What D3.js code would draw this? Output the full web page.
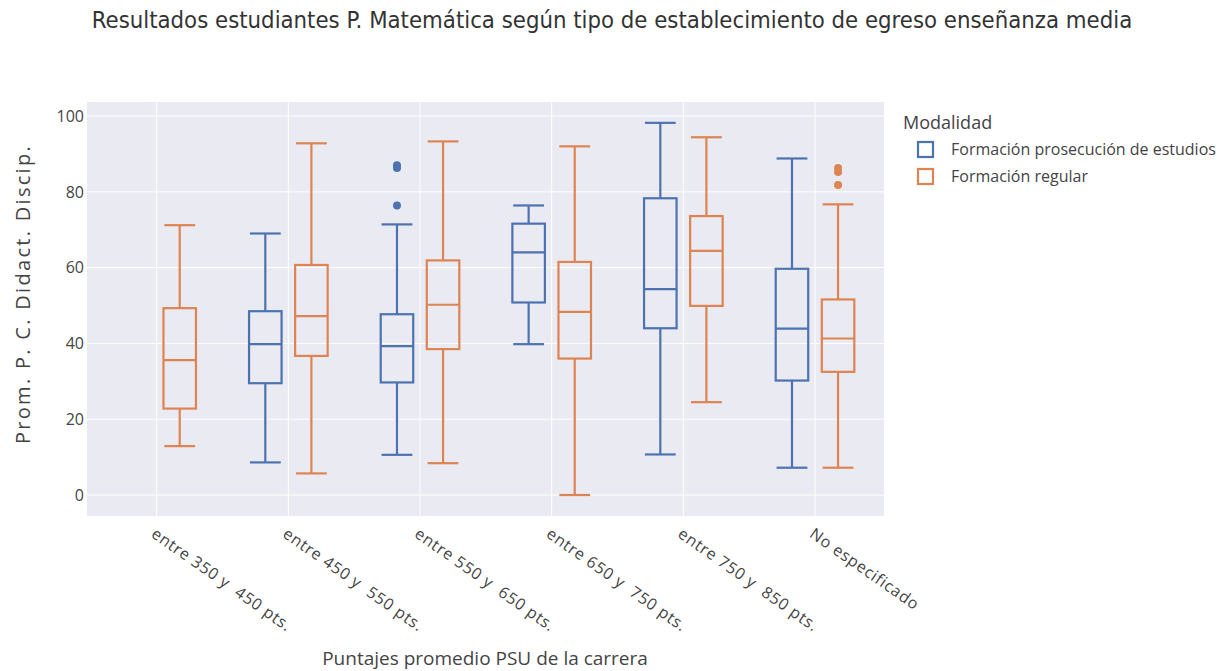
<!DOCTYPE html>
<html><head><meta charset="utf-8">
<script src="https://cdn.jsdelivr.net/npm/d3@7"></script>
<style>
body{margin:0;background:#fff;}
text{white-space:pre;}
</style>
</head><body>
<svg id="chart" width="1224" height="671"></svg>
<script>
const categories = ["entre 350 y  450 pts.","entre 450 y  550 pts.","entre 550 y  650 pts.","entre 650 y  750 pts.","entre 750 y  850 pts.","No especificado"];
const seriesNames = ["Formación prosecución de estudios","Formación regular"];
const seriesColors = ["#4c72b0","#dd8452"];
// [lowerWhisker, q1, median, q3, upperWhisker] per category (null = no data)
const prosecucion = [
  null,
  [8.6, 29.5, 39.8, 48.5, 69.0],
  [10.6, 29.7, 39.3, 47.7, 71.4],
  [39.8, 50.8, 64.0, 71.6, 76.4],
  [10.7, 44.0, 54.3, 78.3, 98.2],
  [7.2, 30.2, 43.9, 59.7, 88.8]
];
const regular = [
  [12.9, 22.8, 35.6, 49.3, 71.2],
  [5.7, 36.7, 47.2, 60.7, 92.8],
  [8.4, 38.5, 50.2, 61.9, 93.3],
  [0.0, 36.0, 48.3, 61.5, 92.0],
  [24.5, 49.9, 64.4, 73.6, 94.4],
  [7.2, 32.5, 41.3, 51.6, 76.7]
];
const prosecucionOutliers = [[], [], [87.0, 86.3, 76.4], [], [], []];
const regularOutliers = [[], [], [], [], [], [86.3, 85.2, 81.8]];
const yTicks = [0, 20, 40, 60, 80, 100];

const svg = d3.select("#chart");
const plot = {left: 87, right: 884, top: 102, bottom: 516};
const y = d3.scaleLinear().domain([-5.54, 103.7]).range([plot.bottom, plot.top]);
const x = d3.scaleBand().domain(categories).range([plot.left + 3.85, plot.right - 3.15]).padding(0);
const bw = x.bandwidth();
const offsets = [-0.175 * bw, 0.175 * bw];
const boxW = 0.247 * bw;
const capW = 0.117 * bw;
const textColor = "#444";

svg.append("rect").attr("x", plot.left).attr("y", plot.top)
  .attr("width", plot.right - plot.left).attr("height", plot.bottom - plot.top)
  .attr("fill", "#eaeaf2");

// grid
svg.append("g").selectAll("line").data(yTicks).join("line")
  .attr("x1", plot.left).attr("x2", plot.right)
  .attr("y1", d => y(d)).attr("y2", d => y(d))
  .attr("stroke", "#fff").attr("stroke-width", 1);
svg.append("g").selectAll("line").data(categories).join("line")
  .attr("x1", d => x(d) + bw / 2).attr("x2", d => x(d) + bw / 2)
  .attr("y1", plot.top).attr("y2", plot.bottom)
  .attr("stroke", "#fff").attr("stroke-width", 1);

// y tick labels
svg.append("g").selectAll("text").data(yTicks).join("text")
  .attr("x", 84).attr("y", d => y(d)).attr("dy", "0.36em")
  .attr("text-anchor", "end")
  .attr("font-family", "Open Sans").attr("font-size", 16).attr("fill", textColor)
  .text(d => d);

// x tick labels
svg.append("g").selectAll("text").data(categories).join("text")
  .attr("transform", d => `translate(${x(d) + bw / 2},${527}) rotate(35)`)
  .attr("dy", "0.71em")
  .attr("text-anchor", "start")
  .attr("font-family", "Open Sans").attr("font-size", 16).attr("letter-spacing", 0.75)
  .attr("fill", textColor)
  .text(d => d);

// boxes
const allSeries = [prosecucion, regular];
const allOutliers = [prosecucionOutliers, regularOutliers];
allSeries.forEach((series, si) => {
  const g = svg.append("g").attr("stroke", seriesColors[si]).attr("stroke-width", 2.2).attr("fill", "none");
  series.forEach((s, ci) => {
    if (!s) return;
    const cx = x(categories[ci]) + bw / 2 + offsets[si];
    const [lo, q1, med, q3, hi] = s;
    g.append("line").attr("x1", cx).attr("x2", cx).attr("y1", y(hi)).attr("y2", y(q3));
    g.append("line").attr("x1", cx).attr("x2", cx).attr("y1", y(q1)).attr("y2", y(lo));
    g.append("line").attr("x1", cx - capW).attr("x2", cx + capW).attr("y1", y(hi)).attr("y2", y(hi));
    g.append("line").attr("x1", cx - capW).attr("x2", cx + capW).attr("y1", y(lo)).attr("y2", y(lo));
    g.append("rect").attr("x", cx - boxW / 2).attr("width", boxW)
      .attr("y", y(q3)).attr("height", y(q1) - y(q3));
    g.append("line").attr("x1", cx - boxW / 2).attr("x2", cx + boxW / 2).attr("y1", y(med)).attr("y2", y(med));
  });
  allOutliers[si].forEach((outs, ci) => {
    const cx = x(categories[ci]) + bw / 2 + offsets[si];
    svg.append("g").selectAll("circle").data(outs).join("circle")
      .attr("cx", cx).attr("cy", d => y(d)).attr("r", 4)
      .attr("fill", seriesColors[si]);
  });
});

// title
svg.append("text").attr("x", 612).attr("y", 28).attr("text-anchor", "middle")
  .attr("font-family", "DejaVu Sans Condensed, DejaVu Sans").attr("font-size", 23.7)
  .attr("fill", "#333")
  .text("Resultados estudiantes P. Matemática según tipo de establecimiento de egreso enseñanza media");

// axis titles
svg.append("text").attr("x", 485).attr("y", 665).attr("text-anchor", "middle")
  .attr("font-family", "Open Sans").attr("font-size", 19).attr("fill", textColor)
  .text("Puntajes promedio PSU de la carrera");
svg.append("text").attr("transform", `translate(30,294) rotate(-90)`)
  .attr("text-anchor", "middle")
  .attr("font-family", "Open Sans").attr("font-size", 20).attr("letter-spacing", 2.3)
  .attr("fill", textColor)
  .text("Prom. P. C. Didact. Discip.");

// legend
const lg = svg.append("g").attr("transform", "translate(903,0)");
lg.append("text").attr("x", 0).attr("y", 129)
  .attr("font-family", "Open Sans").attr("font-size", 18).attr("fill", textColor)
  .text("Modalidad");
seriesNames.forEach((n, i) => {
  const yy = 149 + i * 27;
  lg.append("rect").attr("x", 15).attr("y", yy - 7).attr("width", 15).attr("height", 15)
    .attr("fill", "none").attr("stroke", seriesColors[i]).attr("stroke-width", 2.2);
  lg.append("text").attr("x", 48).attr("y", yy).attr("dy", "0.36em")
    .attr("font-family", "Open Sans").attr("font-size", 16).attr("fill", textColor)
    .text(n);
});
</script>
</body></html>
